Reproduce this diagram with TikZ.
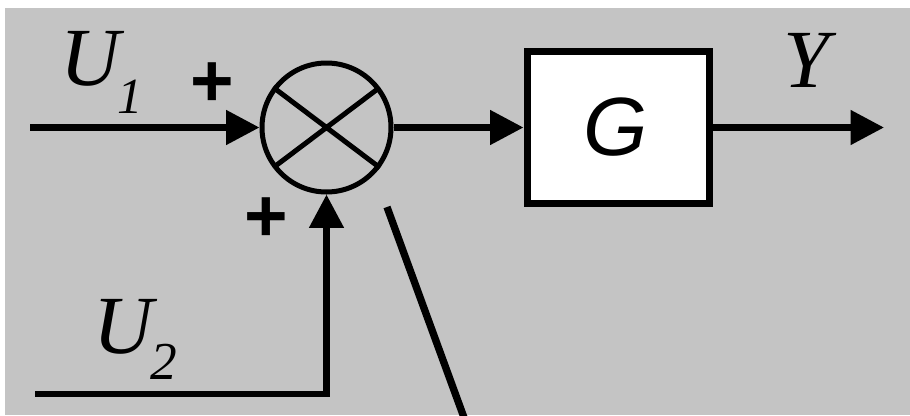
\documentclass[tikz,border=0pt]{standalone}
\usepackage{fontspec}
\setmainfont{Liberation Serif}
\newfontfamily\arialfont{Liberation Sans}
\usetikzlibrary{arrows.meta}
\definecolor{panelgray}{RGB}{196,196,196}

\begin{document}
\begin{tikzpicture}[x=0.75pt,y=0.75pt,yscale=-1,xscale=1,
  sig/.style={line width=4.9pt,-{Triangle[length=25pt,width=25pt]}},
  sumcircle/.style={circle,draw,line width=3.75pt,minimum size=96.75pt,inner sep=0pt},
  block/.style={draw,fill=white,line width=5.25pt,minimum width=136.5pt,minimum height=114.4pt,inner sep=0pt,font=\arialfont\itshape\fontsize{62}{62}\selectfont},
  sign/.style={font=\arialfont\bfseries\fontsize{56}{56}\selectfont,inner sep=0pt},
  varname/.style={font=\itshape\fontsize{62}{62}\selectfont,inner sep=0pt},
  ]
\useasboundingbox (0,0) rectangle (910,415);
\clip (0,0) rectangle (910,415);
%Shape: Rectangle
\fill[panelgray] (5,8) rectangle (910,415);

%Shape: Circle
\node[sumcircle] (sum) at (326.5,127.5) {};
\draw[line width=3.75pt,shorten <=1.9pt,shorten >=1.9pt] (sum.143) -- (sum.-37) (sum.37) -- (sum.-143);

%Shape: Rectangle
\node[block] (plant) at (618,127.5) {G\kern4pt};

\coordinate (in1) at (30,127.5);
\coordinate (in2) at (35,394);
\coordinate (out) at (884,127.5);
\coordinate (pin top) at (387,207);
\coordinate (pin end) at (466,423);

%Straight Lines
\draw[sig] (in1) -- (sum.west);
\draw[sig] (in2) -| (sum.south);
\draw[sig] (sum.east) -- (plant.west);
\draw[sig] (plant.east) -- (out);
\draw[line width=5.5pt] (pin top) -- (pin end);

% Text Node
\node[varname,anchor=base west] (u1 label) at (60,85) {U\kern-2pt\raisebox{-21pt}{\fontsize{38}{38}\selectfont 1}};
% Text Node
\node[varname,anchor=base west] (u2 label) at (93,353) {U\kern-2pt\raisebox{-20pt}{\fontsize{40}{40}\selectfont 2}};
% Text Node
\node[varname,anchor=base] (y label) at (806,87) {Y};
% Text Node
\node[sign] (plus1) at (212,85) {+};
% Text Node
\node[sign] (plus2) at (266,220) {+};

\end{tikzpicture}
\end{document}
